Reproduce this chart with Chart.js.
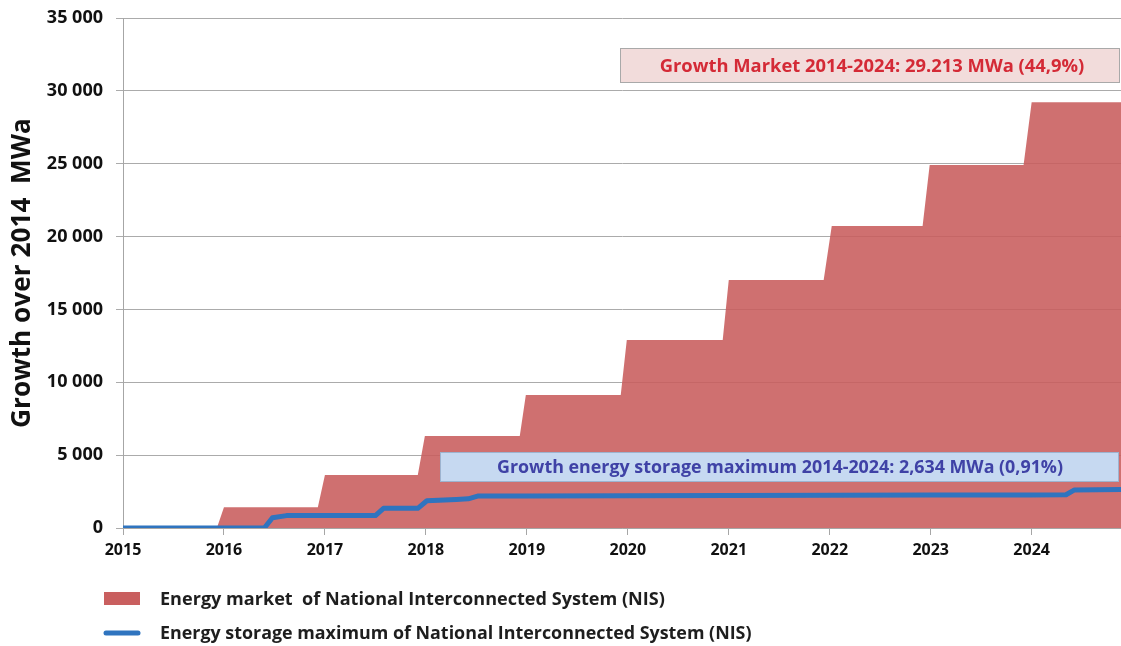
<!DOCTYPE html>
<html><head><meta charset="utf-8">
<script src="https://cdn.jsdelivr.net/npm/chart.js@4.4.1/dist/chart.umd.min.js"></script>
<style>html,body{margin:0;padding:0;background:#fff;}#wrap{position:relative;width:1121px;height:646px;}</style>
</head><body><div id="wrap"><canvas id="c" width="1121" height="646"></canvas></div>
<script>
// ---- data ----
const marketYears  = [2015, 2015.93, 2016.00, 2016.93, 2017.00, 2017.92, 2017.99, 2018.93, 2018.99, 2019.93, 2019.99, 2020.94, 2021.00, 2021.94, 2022.02, 2022.92, 2022.99, 2023.92, 2024.00, 2024.885];
const marketValues = [0, 0, 1420, 1420, 3640, 3640, 6310, 6310, 9130, 9130, 12900, 12900, 17020, 17020, 20730, 20730, 24910, 24910, 29213, 29213];
const storageYears  = [2015, 2016.40, 2016.48, 2016.62, 2017.00, 2017.50, 2017.58, 2017.92, 2018.01, 2018.30, 2018.42, 2018.52, 2019.0, 2020.0, 2021.0, 2022.0, 2023.0, 2024.0, 2024.34, 2024.42, 2024.885];
const storageValues = [0, 0, 700, 850, 850, 850, 1350, 1350, 1870, 1950, 2000, 2200, 2200, 2210, 2230, 2240, 2260, 2270, 2280, 2600, 2634];
const xTickYears = [2015, 2016, 2017, 2018, 2019, 2020, 2021, 2022, 2023, 2024];
const yTickValues = [0, 5000, 10000, 15000, 20000, 25000, 30000, 35000];
const seriesLabels = ['Energy market  of National Interconnected System (NIS)', 'Energy storage maximum of National Interconnected System (NIS)'];
const marketNote = 'Growth Market 2014-2024: 29.213 MWa (44,9%)';
const storageNote = 'Growth energy storage maximum 2014-2024: 2,634 MWa (0,91%)';
const yTitle = 'Growth over 2014  MWa';

const FAMILY = '"Open Sans", sans-serif';
const mctx = document.createElement('canvas').getContext('2d');
function fitSize(text, width) {
  mctx.font = 'bold 100px ' + FAMILY;
  return 100 * width / mctx.measureText(text).width;
}
const toPts = (xs, ys) => xs.map((x, i) => ({x: x, y: ys[i]}));

const notesPlugin = {
  id: 'notes',
  afterDraw(chart) {
    const ctx = chart.ctx;
    ctx.save();
    // red note box
    ctx.fillStyle = '#f2dcdb'; ctx.strokeStyle = '#a9a9a9'; ctx.lineWidth = 1;
    ctx.fillRect(620, 48, 500, 35); ctx.strokeRect(620.5, 48.5, 499, 34);
    ctx.fillStyle = '#d42a36'; ctx.textAlign = 'center'; ctx.textBaseline = 'middle';
    ctx.font = 'bold ' + fitSize(marketNote, 425).toFixed(2) + 'px ' + FAMILY;
    ctx.fillText(marketNote, 872, 67);
    // blue note box
    ctx.fillStyle = '#c6d9f1'; ctx.strokeStyle = '#9db3cf';
    ctx.fillRect(440, 452, 679, 30); ctx.strokeRect(440.5, 452.5, 678, 29);
    ctx.fillStyle = '#3f42a6';
    ctx.font = 'bold ' + fitSize(storageNote, 566).toFixed(2) + 'px ' + FAMILY;
    ctx.fillText(storageNote, 780, 468);
    // legend
    ctx.fillStyle = '#c95f5f';
    ctx.fillRect(104, 592, 36, 13);
    ctx.strokeStyle = '#2f74bf'; ctx.lineWidth = 5; ctx.lineCap = 'round';
    ctx.beginPath(); ctx.moveTo(106, 633); ctx.lineTo(138, 633); ctx.stroke();
    ctx.fillStyle = '#1e1e1e'; ctx.textAlign = 'left';
    ctx.font = 'bold ' + fitSize(seriesLabels[0], 505).toFixed(2) + 'px ' + FAMILY;
    ctx.fillText(seriesLabels[0], 160, 600);
    ctx.font = 'bold ' + fitSize(seriesLabels[1], 592).toFixed(2) + 'px ' + FAMILY;
    ctx.fillText(seriesLabels[1], 160, 634);
    ctx.restore();
  }
};

new Chart(document.getElementById('c'), {
  type: 'line',
  data: {
    datasets: [
      {
        label: seriesLabels[1], data: toPts(storageYears, storageValues),
        borderColor: '#2f74bf', borderWidth: 5, pointRadius: 0, fill: false,
        tension: 0, order: 0, borderJoinStyle: 'round', borderCapStyle: 'round'
      },
      {
        label: seriesLabels[0], data: toPts(marketYears, marketValues),
        backgroundColor: 'rgba(200,92,92,0.88)', borderWidth: 0,
        pointRadius: 0, fill: 'origin', tension: 0, order: 1
      }
    ]
  },
  options: {
    responsive: false, animation: false, devicePixelRatio: 1,
    layout: {padding: {top: 18, right: 0, left: 0, bottom: 0}},
    plugins: {legend: {display: false}, tooltip: {enabled: false}},
    scales: {
      x: {
        type: 'linear', min: 2015, max: 2024.885,
        afterFit(s) { s.height = 118; s.paddingRight = 0; },
        afterBuildTicks(s) { s.ticks = xTickYears.map(v => ({value: v})); },
        ticks: {includeBounds: false, autoSkip: false, maxRotation: 0, padding: 6,
          color: '#111', font: {family: FAMILY, weight: 'bold', size: 16},
          callback: v => String(v)},
        grid: {drawOnChartArea: false, drawTicks: true, tickLength: 7, color: '#a6a6a6'},
        border: {display: true, color: '#a6a6a6'}
      },
      y: {
        min: 0, max: 35000,
        afterFit(s) { s.width = 123; s.paddingTop = 0; s.paddingBottom = 0; },
        afterBuildTicks(s) { s.ticks = yTickValues.map(v => ({value: v})); },
        ticks: {padding: 13, color: '#111', font: {family: FAMILY, weight: 'bold', size: 18},
          callback: v => v === 0 ? '0' : String(v).replace(/\B(?=(\d{3})+(?!\d))/g, ' ')},
        grid: {drawTicks: true, tickLength: 7, color: '#ababab'},
        border: {display: true, color: '#a6a6a6'},
        title: {display: true, text: yTitle, color: '#111', padding: {top: 7, bottom: 0},
          font: {family: FAMILY, weight: 'bold', size: fitSize(yTitle, 310)}}
      }
    }
  },
  plugins: [notesPlugin]
});
</script></body></html>
